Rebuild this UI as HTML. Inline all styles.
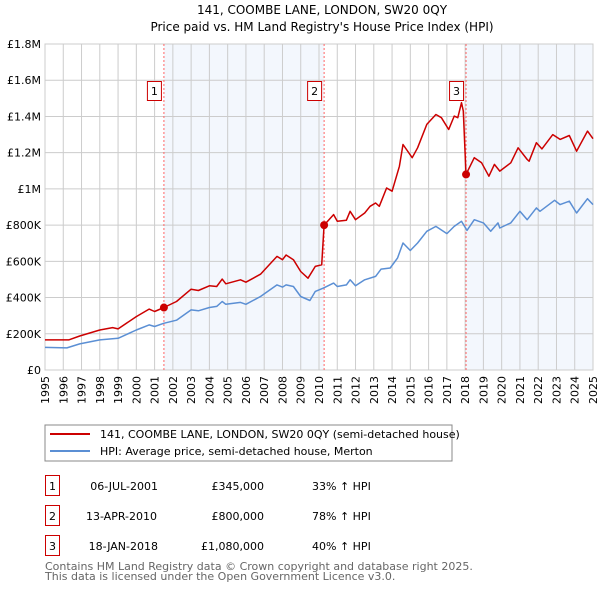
<!DOCTYPE html>
<html><head><meta charset="utf-8"><style>
body{margin:0;background:#fff;font-family:"DejaVu Sans","Liberation Sans",sans-serif;}
svg text{font-family:"DejaVu Sans","Liberation Sans",sans-serif;}
</style></head><body>
<svg id="c" width="600" height="590" viewBox="0 0 600 590" xmlns="http://www.w3.org/2000/svg">
<text x="322" y="14" text-anchor="middle" font-size="12" fill="#000">141, COOMBE LANE, LONDON, SW20 0QY</text>
<text x="322" y="31" text-anchor="middle" font-size="12" fill="#000">Price paid vs. HM Land Registry's House Price Index (HPI)</text>
<g id="plot"></g>
<rect x="45" y="425" width="407" height="36" fill="#fff" stroke="#888"/>
<line x1="50" y1="434" x2="90" y2="434" stroke="#cc0000" stroke-width="2"/>
<text x="100" y="438" font-size="11">141, COOMBE LANE, LONDON, SW20 0QY (semi-detached house)</text>
<line x1="50" y1="451" x2="90" y2="451" stroke="#5b8fd4" stroke-width="2"/>
<text x="100" y="455" font-size="11">HPI: Average price, semi-detached house, Merton</text>
<g font-size="11" fill="#000">
<rect x="45.5" y="475.5" width="14" height="20" fill="none" stroke="#cc0000"/>
<text x="52.5" y="490" text-anchor="middle">1</text>
<text x="158" y="490" text-anchor="end">06-JUL-2001</text>
<text x="264" y="490" text-anchor="end">£345,000</text>
<text x="312" y="490">33% ↑ HPI</text>
<rect x="45.5" y="505.5" width="14" height="20" fill="none" stroke="#cc0000"/>
<text x="52.5" y="520" text-anchor="middle">2</text>
<text x="157" y="520" text-anchor="end">13-APR-2010</text>
<text x="264" y="520" text-anchor="end">£800,000</text>
<text x="312" y="520">78% ↑ HPI</text>
<rect x="45.5" y="535.5" width="14" height="20" fill="none" stroke="#cc0000"/>
<text x="52.5" y="550" text-anchor="middle">3</text>
<text x="158" y="550" text-anchor="end">18-JAN-2018</text>
<text x="264" y="550" text-anchor="end">£1,080,000</text>
<text x="312" y="550">40% ↑ HPI</text>
</g>
<text x="45" y="570" font-size="11" fill="#666">Contains HM Land Registry data © Crown copyright and database right 2025.</text>
<text x="45" y="580" font-size="11" fill="#666">This data is licensed under the Open Government Licence v3.0.</text>
</svg>
<script>
const yTicks=[0,200,400,600,800,1000,1200,1400,1600,1800];
const yTickLabels=["£0","£200K","£400K","£600K","£800K","£1M","£1.2M","£1.4M","£1.6M","£1.8M"];
const years=[1995,1996,1997,1998,1999,2000,2001,2002,2003,2004,2005,2006,2007,2008,2009,2010,2011,2012,2013,2014,2015,2016,2017,2018,2019,2020,2021,2022,2023,2024,2025];
const saleLabels=["1","2","3"];
const saleDates=[2001.51,2010.28,2018.05];
const salePrices=[345,800,1080];
const hpiT=[1995,1996.2,1996.9,1998,1999,2000,2000.7,2001,2001.5,2002.2,2003,2003.4,2004,2004.4,2004.7,2004.9,2005.7,2006,2006.8,2007.7,2008,2008.2,2008.6,2009,2009.5,2009.8,2010.24,2010.8,2011,2011.5,2011.7,2012,2012.5,2013.1,2013.4,2013.9,2014.3,2014.6,2015,2015.4,2015.9,2016.4,2017,2017.4,2017.8,2018.1,2018.5,2019,2019.4,2019.8,2019.9,2020.5,2021,2021.4,2021.9,2022.1,2022.9,2023.2,2023.7,2024.1,2024.7,2025];
const hpiV=[125,122,144,166,175,221,249,240,258,275,332,327,345,351,378,363,373,363,406,470,458,470,461,406,384,434,452,480,461,470,498,465,498,517,557,563,618,701,660,701,766,793,753,793,821,771,830,812,766,812,784,812,876,830,895,876,937,913,932,867,946,913];
const propT=[1995,1996.3,1996.9,1998,1998.7,1999,2000,2000.7,2001,2001.51,2002.2,2003,2003.4,2004,2004.4,2004.7,2004.9,2005.7,2006,2006.8,2007.7,2008,2008.2,2008.6,2009,2009.4,2009.8,2010.15,2010.28,2010.8,2011,2011.5,2011.7,2012,2012.5,2012.8,2013.1,2013.3,2013.7,2014,2014.4,2014.6,2015.1,2015.4,2015.9,2016.4,2016.7,2017.1,2017.4,2017.6,2017.8,2017.9,2018.05,2018.5,2018.9,2019.3,2019.6,2019.9,2020.5,2020.9,2021.4,2021.5,2021.9,2022.2,2022.8,2023.2,2023.7,2024.1,2024.7,2025];
const propV=[166,166,188,221,234,227,295,336,323,345,378,446,439,465,461,502,476,498,485,529,627,609,635,609,544,507,572,581,800,858,821,827,876,830,867,904,922,904,1005,987,1125,1245,1172,1227,1356,1411,1393,1328,1402,1393,1476,1430,1080,1172,1144,1070,1135,1098,1144,1227,1162,1153,1255,1221,1300,1273,1295,1208,1319,1277];

const L=45,R=593,T=44,B=370;
const xs=y=>L+(y-1995)/30*(R-L);
const ys=v=>B-v/1800*(B-T);
const NS="http://www.w3.org/2000/svg";
const g=document.getElementById('plot');
function mk(tag,attrs,parent){const e=document.createElementNS(NS,tag);for(const k in attrs)e.setAttribute(k,attrs[k]);(parent||g).appendChild(e);return e;}
// shading
let r=mk('rect',{x:xs(saleDates[0]),y:T,width:xs(saleDates[1])-xs(saleDates[0]),height:B-T,fill:'#eef3fc',opacity:0.7});


r=mk('rect',{x:xs(saleDates[2]),y:T,width:R-xs(saleDates[2]),height:B-T,fill:'#eef3fc',opacity:0.7});


// grid
years.forEach((yr,i)=>{
  const l=mk('line',{x1:xs(yr),x2:xs(yr),y1:T,y2:B,stroke:'#ccc','stroke-width':1});
  
  
  const x=xs(yr), t=mk('text',{x:x+4,y:B+6,'font-size':11,transform:`rotate(-90 ${x+4} ${B+6})`,'text-anchor':'end'});
  t.textContent=yr;
  
  
});
yTicks.forEach((v,i)=>{
  const l=mk('line',{x1:L,x2:R,y1:ys(v),y2:ys(v),stroke:'#ccc','stroke-width':1});
  
  
  const t=mk('text',{x:L-4,y:ys(v)+4,'font-size':11,'text-anchor':'end'});
  t.textContent=yTickLabels[i];
  
  
});
const fr=mk('rect',{x:L,y:T,width:R-L,height:B-T,fill:'none',stroke:'#ccc'});


// sale vlines
saleDates.forEach((d,i)=>{
  const l=mk('line',{x1:xs(d),x2:xs(d),y1:T,y2:B,stroke:'#ff6666','stroke-width':1,'stroke-dasharray':'2,2'});
  
  
});
function path(ts,vs,col,name){
  const d=ts.map((t,i)=>(i?'L':'M')+xs(t).toFixed(1)+','+ys(vs[i]).toFixed(1)).join('');
  const p=mk('path',{d:d,fill:'none',stroke:col,'stroke-width':1.5,'stroke-linejoin':'round'});
  
  
}
path(hpiT,hpiV,'#5b8fd4','hpi-line');
path(propT,propV,'#cc0000','property-line');
saleDates.forEach((d,i)=>{
  const c=mk('circle',{cx:xs(d),cy:ys(salePrices[i]),r:4,fill:'#cc0000'});
  
  
  const bx=xs(d)-17;
  const b=mk('rect',{x:bx+0.5,y:81.5,width:14,height:19,fill:'#fff',stroke:'#cc0000'});
  
  
  const t=mk('text',{x:bx+7.5,y:95,'font-size':11,'text-anchor':'middle'});
  t.textContent=saleLabels[i];
  
  
});
</script>
</body></html>
